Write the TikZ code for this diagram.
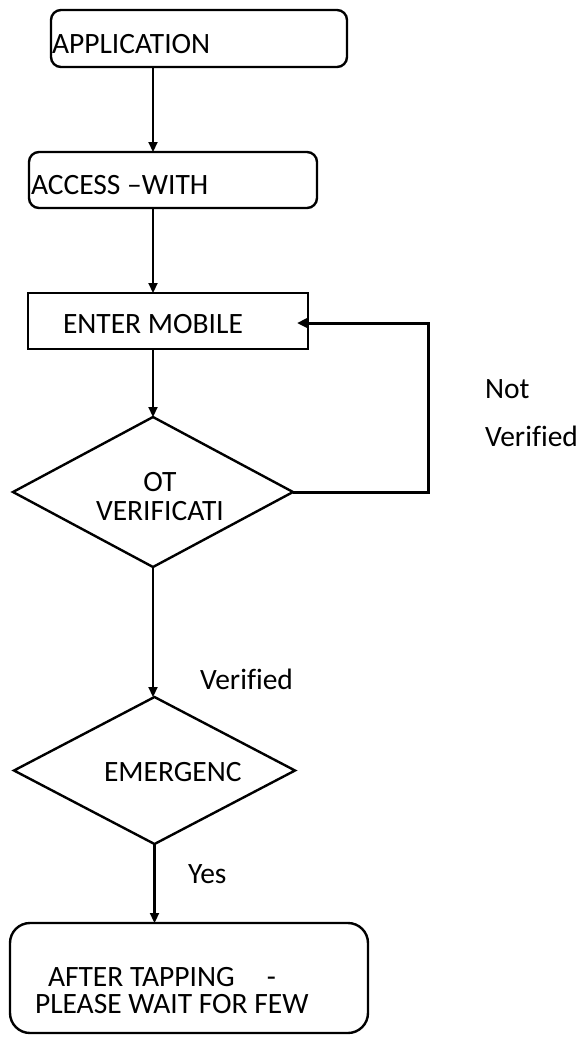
\documentclass[tikz,border=0pt]{standalone}
\usepackage{fontspec}
\setmainfont[Ligatures=NoCommon]{Carlito}
\usetikzlibrary{shapes.geometric,arrows.meta}
\begin{document}
\begin{tikzpicture}[x=1pt,y=-1pt,
  every node/.style={inner sep=0pt, outer sep=0pt},
  rbox/.style={draw, line width=2.4pt, rounded corners=10pt},
  sbox/.style={draw, line width=2.4pt},
  dbox/.style={draw, diamond, line width=2.4pt},
  txt/.style={font=\fontsize{29.5}{29.5}\selectfont},
  arr/.style={line width=2.2pt, -{Triangle[length=10pt,width=9pt]}}]
\useasboundingbox (0,0) rectangle (579,1039);

% process boxes and decisions
\node[rbox, minimum width=296pt, minimum height=57pt] (app) at (199,38.5) {};
\node[rbox, minimum width=288pt, minimum height=56pt] (acc) at (173,180) {};
\node[sbox, minimum width=280pt, minimum height=56pt] (mob) at (168,321) {};
\node[dbox, minimum width=280pt, minimum height=150pt] (otp) at (153,492) {};
\node[dbox, minimum width=281pt, minimum height=147pt] (emg) at (154.5,770.5) {};
\node[rbox, rounded corners=20pt, minimum width=358pt, minimum height=110pt] (fin) at (189,978) {};

% texts
\node[txt, anchor=base west] (appt) at (52,53) {APPLICATION};
\node[txt, anchor=base west] (acct) at (31,194) {ACCESS –WITH};
\node[txt, anchor=base west] (mobt) at (63,333) {ENTER MOBILE};
\node[txt, anchor=base, align=center] (otpt) at (160,520) {OT\\[-1pt]VERIFICATI};
\node[txt, anchor=base west] (emgt) at (104,781) {EMERGENC};
\node[txt, anchor=base west, align=left] (fint) at (35,1013)
  {\hspace*{13pt}AFTER TAPPING\hspace{32pt}-\\[-2.5pt]PLEASE WAIT FOR FEW};
\node[txt, anchor=base west] (nv1) at (485,398) {Not};
\node[txt, anchor=base west] (nv2) at (485,446) {Verified};
\node[txt, anchor=base west] (ver) at (200,689) {Verified};
\node[txt, anchor=base west] (yes) at (188,883) {Yes};

% connectors
\coordinate (spine) at (153,0);
\coordinate (loop) at (428,323);
\coordinate (tip) at (297,323);
\draw[arr] (app.south -| spine) -- (acc.north -| spine);
\draw[arr] (acc.south -| spine) -- (mob.north -| spine);
\draw[arr] (mob.south -| spine) -- (otp.north);
\draw[arr, line width=3pt] (otp.east) -| (loop) -- (tip);
\draw[arr] (otp.south) -- (otp.south |- emg.north);
\draw[arr] (emg.south) -- (emg.south |- fin.north);
\end{tikzpicture}
\end{document}
